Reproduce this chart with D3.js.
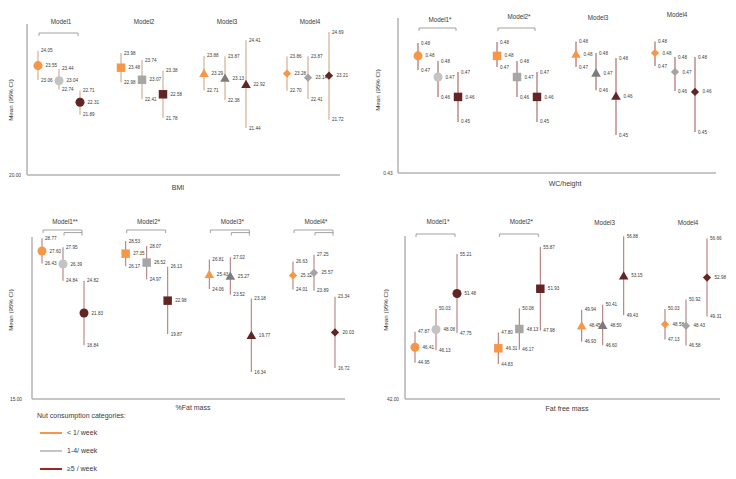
<!DOCTYPE html>
<html><head><meta charset="utf-8">
<script src="https://cdn.jsdelivr.net/npm/d3@7"></script>
<style>body{margin:0;background:#fff}svg{display:block}text{font-family:"Liberation Sans",Arial,sans-serif;fill:#3a3a3a}</style>
</head><body>
<script>
// ---------- DATA ----------
const categories = ["< 1/ week", "1-4/ week", "≥5 / week"];

const bmiModels = ["Model1", "Model2", "Model3", "Model4"];
const bmiMean  = [[23.55, 23.04, 22.31], [23.48, 23.07, 22.58], [23.29, 23.13, 22.92], [23.28, 23.14, 23.21]];
const bmiLower = [[23.06, 22.74, 21.89], [22.98, 22.41, 21.78], [22.71, 22.38, 21.44], [22.70, 22.41, 21.72]];
const bmiUpper = [[24.05, 23.44, 22.71], [23.98, 23.74, 23.38], [23.88, 23.87, 24.41], [23.86, 23.87, 24.69]];
const bmiBrackets = [[0, 0, 2, 0]]; // model, fromCat, toCat, level

const wcModels = ["Model1*", "Model2*", "Model3", "Model4"];
const wcMean  = [[0.4788, 0.4700, 0.4617], [0.4788, 0.4700, 0.4617], [0.4796, 0.4717, 0.4621], [0.4800, 0.4721, 0.4638]];
const wcLower = [[0.4729, 0.4617, 0.4513], [0.4742, 0.4617, 0.4513], [0.4742, 0.4645, 0.4458], [0.4746, 0.4642, 0.4471]];
const wcUpper = [[0.4842, 0.4767, 0.4721], [0.4846, 0.4767, 0.4721], [0.4848, 0.4800, 0.4779], [0.4848, 0.4783, 0.4783]];
const wcBrackets = [[0, 0, 2, 0], [1, 0, 2, 0]];

const fatModels = ["Model1**", "Model2*", "Model3*", "Model4*"];
const fatMean  = [[27.60, 26.39, 21.83], [27.35, 26.52, 22.98], [25.43, 25.27, 19.77], [25.32, 25.57, 20.03]];
const fatLower = [[26.43, 24.84, 18.84], [26.17, 24.97, 19.87], [24.06, 23.52, 16.34], [24.01, 23.89, 16.72]];
const fatUpper = [[28.77, 27.95, 24.82], [28.53, 28.07, 26.13], [26.81, 27.02, 23.18], [26.63, 27.25, 23.34]];
const fatBrackets = [[0, 0, 2, 0], [0, 1, 2, 1], [1, 0, 2, 0], [2, 0, 2, 0], [2, 1, 2, 1], [3, 0, 2, 0], [3, 1, 2, 1]];

const ffmModels = ["Model1*", "Model2*", "Model3", "Model4"];
const ffmMean  = [[46.41, 48.08, 51.48], [46.31, 48.13, 51.93], [48.45, 48.50, 53.15], [48.58, 48.43, 52.98]];
const ffmLower = [[44.95, 46.13, 47.75], [44.83, 46.17, 47.98], [46.93, 46.60, 49.43], [47.13, 46.58, 49.31]];
const ffmUpper = [[47.87, 50.03, 55.21], [47.80, 50.08, 55.87], [49.94, 50.41, 56.88], [50.03, 50.92, 56.66]];
const ffmBrackets = [[0, 0, 2, 0], [1, 0, 2, 0]];

const axisMinLabels = ["20.00", "0.43", "15.00", "42.00"];
const outcomeLabels = ["BMI", "WC/height", "%Fat mass", "Fat free mass"];
const yAxisTitle = "Mean (95% CI)";
const legendTitle = "Nut consumption categories:";

// ---------- STYLE / LAYOUT ----------
const shapes = ["circle", "square", "triangle", "diamond"];
const orange = "#f79646", dark = "#632523";
const grays = ["#c3c3c3", "#a6a6a6", "#7c7c7c", "#a3a3a3"];
const legendColors = ["#f79646", "#c4c4c4", "#a02424"];

const panels = [
  {models: bmiModels, mean: bmiMean, lower: bmiLower, upper: bmiUpper, brackets: bmiBrackets,
   ax: 27, top: 24, bottom: 175, right: 340, domain: [20, 25], range: [170.5, 22.8],
   xr: [59, 308], step: 21, titleY: [24, 24, 24, 24], bracketY: 33, tickX: 15, xlabX: 178, xlabY: 190, ylabX: 13, ylabY: 100,
   whisker: "#d3a888", override: []},
  {models: wcModels, mean: wcMean, lower: wcLower, upper: wcUpper, brackets: wcBrackets,
   ax: 398, top: 18, bottom: 173, right: 716, domain: [0.43, 0.49], range: [173, 29],
   xr: [438, 675], step: 20, titleY: [22, 19, 20, 17], bracketY: 28, tickX: 388, xlabX: 565, xlabY: 186, ylabX: 380, ylabY: 90,
   whisker: "#a8605e", override: [[0, 2, "square"]]},
  {models: fatModels, mean: fatMean, lower: fatLower, upper: fatUpper, brackets: fatBrackets,
   ax: 32, top: 237, bottom: 399, right: 345, domain: [15, 29], range: [386.5, 235.9],
   xr: [63, 314], step: 21, titleY: [224, 224, 224, 224], bracketY: 230, tickX: 16, xlabX: 193, xlabY: 410, ylabX: 13, ylabY: 310,
   whisker: "#b57f7d", override: []},
  {models: ffmModels, mean: ffmMean, lower: ffmLower, upper: ffmUpper, brackets: ffmBrackets,
   ax: 405, top: 236, bottom: 399, right: 720, domain: [42, 57], range: [394, 235],
   xr: [436, 686], step: 21, titleY: [224, 224, 225, 225], bracketY: 234, tickX: 393, xlabX: 567, xlabY: 411, ylabX: 388, ylabY: 310,
   whisker: "#b37c7a", override: []}
];

const svg = d3.select("body").append("svg").attr("width", 736).attr("height", 479);
const fmt = d3.format(".2f");

function symbolPath(shape) {
  if (shape === "circle") return d3.symbol(d3.symbolCircle, 64)();
  if (shape === "square") return d3.symbol(d3.symbolSquare, 72)();
  if (shape === "triangle") return d3.symbol(d3.symbolTriangle, 40)();
  return d3.symbol(d3.symbolSquare, 34)();
}

panels.forEach((p, pi) => {
  const g = svg.append("g");
  const y = d3.scaleLinear().domain(p.domain).range(p.range);
  const xm = d3.scalePoint().domain(p.models).range(p.xr);
  const xc = d3.scalePoint().domain(categories).range([-p.step, p.step]);
  const X = (m, c) => xm(p.models[m]) + xc(categories[c]);

  // axes
  g.append("line").attr("x1", p.ax).attr("x2", p.ax).attr("y1", p.top).attr("y2", p.bottom)
    .attr("stroke", "#8c8c8c").attr("stroke-width", 1);
  g.append("line").attr("x1", p.ax).attr("x2", p.right).attr("y1", p.bottom).attr("y2", p.bottom)
    .attr("stroke", "#b3b3b3").attr("stroke-width", 1.6);
  g.append("text").attr("x", p.tickX).attr("y", p.bottom).attr("dy", "0.35em").attr("text-anchor", "middle")
    .style("font-size", "4.8px").text(axisMinLabels[pi]);
  g.append("text").attr("x", p.xlabX).attr("y", p.xlabY).attr("text-anchor", "middle")
    .style("font-size", "7px").text(outcomeLabels[pi]);
  g.append("text").attr("transform", `translate(${p.ylabX},${p.ylabY}) rotate(-90)`).attr("text-anchor", "middle")
    .style("font-size", "6.2px").text(yAxisTitle);

  // model titles
  p.models.forEach((m, mi) => {
    g.append("text").attr("x", xm(m) + 2).attr("y", p.titleY[mi]).attr("text-anchor", "middle")
      .style("font-size", "6.3px").text(m);
  });

  // brackets
  p.brackets.forEach(([m, a, b, lvl]) => {
    const by = p.bracketY + lvl * 2.6;
    const x1 = X(m, a) + 1, x2 = X(m, b) - 2;
    g.append("path").attr("d", `M${x1},${by + 3}V${by}H${x2}V${by + 3}`)
      .attr("fill", "none").attr("stroke", "#8c8c8c").attr("stroke-width", 0.8);
  });

  // points
  p.models.forEach((m, mi) => {
    categories.forEach((c, ci) => {
      const x = X(mi, ci);
      const mean = p.mean[mi][ci], lo = p.lower[mi][ci], up = p.upper[mi][ci];
      g.append("line").attr("x1", x).attr("x2", x).attr("y1", y(lo)).attr("y2", y(up))
        .attr("stroke", p.whisker).attr("stroke-width", 1.1);
      let shape = shapes[mi];
      p.override.forEach(o => { if (o[0] === mi && o[1] === ci) shape = o[2]; });
      const color = ci === 0 ? orange : ci === 1 ? grays[mi] : dark;
      const rot = shape === "diamond" ? " rotate(45)" : "";
      const dy = shape === "triangle" ? 1 : 0;
      g.append("path").attr("d", symbolPath(shape)).attr("fill", color)
        .attr("transform", `translate(${x},${y(mean) + dy})${rot}`);
      const lab = (yy, dx, v) => g.append("text").attr("x", x + dx).attr("y", yy).attr("dy", "0.35em")
        .style("font-size", "4.6px").text(fmt(v));
      lab(y(up), 3, up);
      lab(y(mean), 7.5, mean);
      lab(y(lo), 3, lo);
    });
  });
});

// legend
svg.append("text").attr("x", 37).attr("y", 418).style("font-size", "7px").text(legendTitle);
categories.forEach((c, i) => {
  const ly = 433 + i * 18;
  svg.append("line").attr("x1", 40).attr("x2", 62).attr("y1", ly).attr("y2", ly)
    .attr("stroke", legendColors[i]).attr("stroke-width", 2);
  svg.append("text").attr("x", 67).attr("y", ly).attr("dy", "0.35em").style("font-size", "7px").text(c);
});
</script>
</body></html>
